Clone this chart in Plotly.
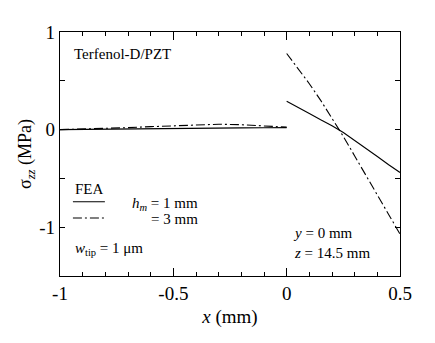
import plotly.graph_objects as go

# hm = 1 mm (solid) and hm = 3 mm (dash-dot), sigma_zz in MPa
x_left = [-1.0, -0.9, -0.8, -0.7, -0.6, -0.5, -0.4, -0.3, -0.2, -0.1, 0.0]
hm1_left = [0.0, 0.003, 0.006, 0.008, 0.01, 0.012, 0.014, 0.016, 0.018, 0.019, 0.02]
hm3_left = [0.0, 0.005, 0.012, 0.02, 0.03, 0.04, 0.05, 0.055, 0.05, 0.04, 0.025]

x_right = [0.0, 0.05, 0.1, 0.15, 0.2, 0.25, 0.3, 0.35, 0.4, 0.45, 0.5]
hm1_right = [0.29, 0.23, 0.165, 0.10, 0.04, -0.03, -0.11, -0.19, -0.275, -0.36, -0.44]
hm3_right = [0.78, 0.63, 0.47, 0.30, 0.12, -0.07, -0.27, -0.47, -0.67, -0.87, -1.07]

x_tickvals = [-1, -0.5, 0, 0.5]
x_ticktext = ["-1", "-0.5", "0", "0.5"]
y_tickvals = [-1, 0, 1]
y_ticktext = ["-1", "0", "1"]

FONT = "'Times New Roman', 'Liberation Serif', serif"
DASHDOT = "9px,3px,2px,3px"

fig = go.Figure()
for xs, ys, dash in [(x_left, hm1_left, "solid"), (x_right, hm1_right, "solid"),
                     (x_left, hm3_left, DASHDOT), (x_right, hm3_right, DASHDOT)]:
    fig.add_trace(go.Scatter(x=xs, y=ys, mode="lines", showlegend=False,
                             line=dict(color="black", width=1.1, dash=dash)))

axis_common = dict(showgrid=False, zeroline=False, showline=True, linecolor="black",
                   linewidth=1.2, mirror="ticks", ticks="inside", tickcolor="black",
                   tickfont=dict(family=FONT, size=19, color="black"))

fig.update_xaxes(range=[-1, 0.5], tickvals=x_tickvals, ticktext=x_ticktext, ticklen=8,
                 minor=dict(dtick=0.1, tick0=-1, ticks="inside", ticklen=4, tickcolor="black"),
                 title=dict(text="<i>x</i> (mm)", font=dict(family=FONT, size=19, color="black"),
                            standoff=6),
                 **axis_common)
fig.update_yaxes(range=[-1.5, 1], tickvals=y_tickvals, ticktext=y_ticktext, ticklen=5,
                 minor=dict(dtick=0.5, tick0=0, ticks="inside", ticklen=5, tickcolor="black"),
                 title=dict(text="σ<sub><i>zz</i></sub> (MPa)",
                            font=dict(family=FONT, size=18, color="black"), standoff=2),
                 **axis_common)

ann_font = dict(family=FONT, size=15, color="black")
notes = [
    ("Terfenol-D/PZT", 0.035, 0.908, "left"),
    ("FEA", 0.038, 0.357, "left"),
    ("<i>h<sub>m</sub></i> = 1 mm", 0.412, 0.296, "right"),
    ("= 3 mm", 0.412, 0.234, "right"),
    ("<i>w</i><sub>tip</sub> = 1 μm", 0.038, 0.111, "left"),
    ("<i>y</i> = 0 mm<br><i>z</i> = 14.5 mm", 0.679, 0.136, "left"),
]
for text, ax, ay, anchor in notes:
    fig.add_annotation(text=text, x=ax, y=ay, xref="paper", yref="paper",
                       xanchor=anchor, yanchor="middle", align="left",
                       showarrow=False, font=ann_font)

# legend line samples
fig.add_shape(type="line", xref="paper", yref="paper", x0=0.038, x1=0.132,
              y0=0.304, y1=0.304, line=dict(color="black", width=1.1))
fig.add_shape(type="line", xref="paper", yref="paper", x0=0.038, x1=0.132,
              y0=0.238, y1=0.238, line=dict(color="black", width=1.1, dash=DASHDOT))

# page body adds an 8px offset, so the figure is drawn slightly smaller
fig.update_layout(width=427, height=335, margin=dict(l=52, r=35, t=24, b=67),
                  plot_bgcolor="white", paper_bgcolor="white", showlegend=False)

fig.write_html("out.html")
